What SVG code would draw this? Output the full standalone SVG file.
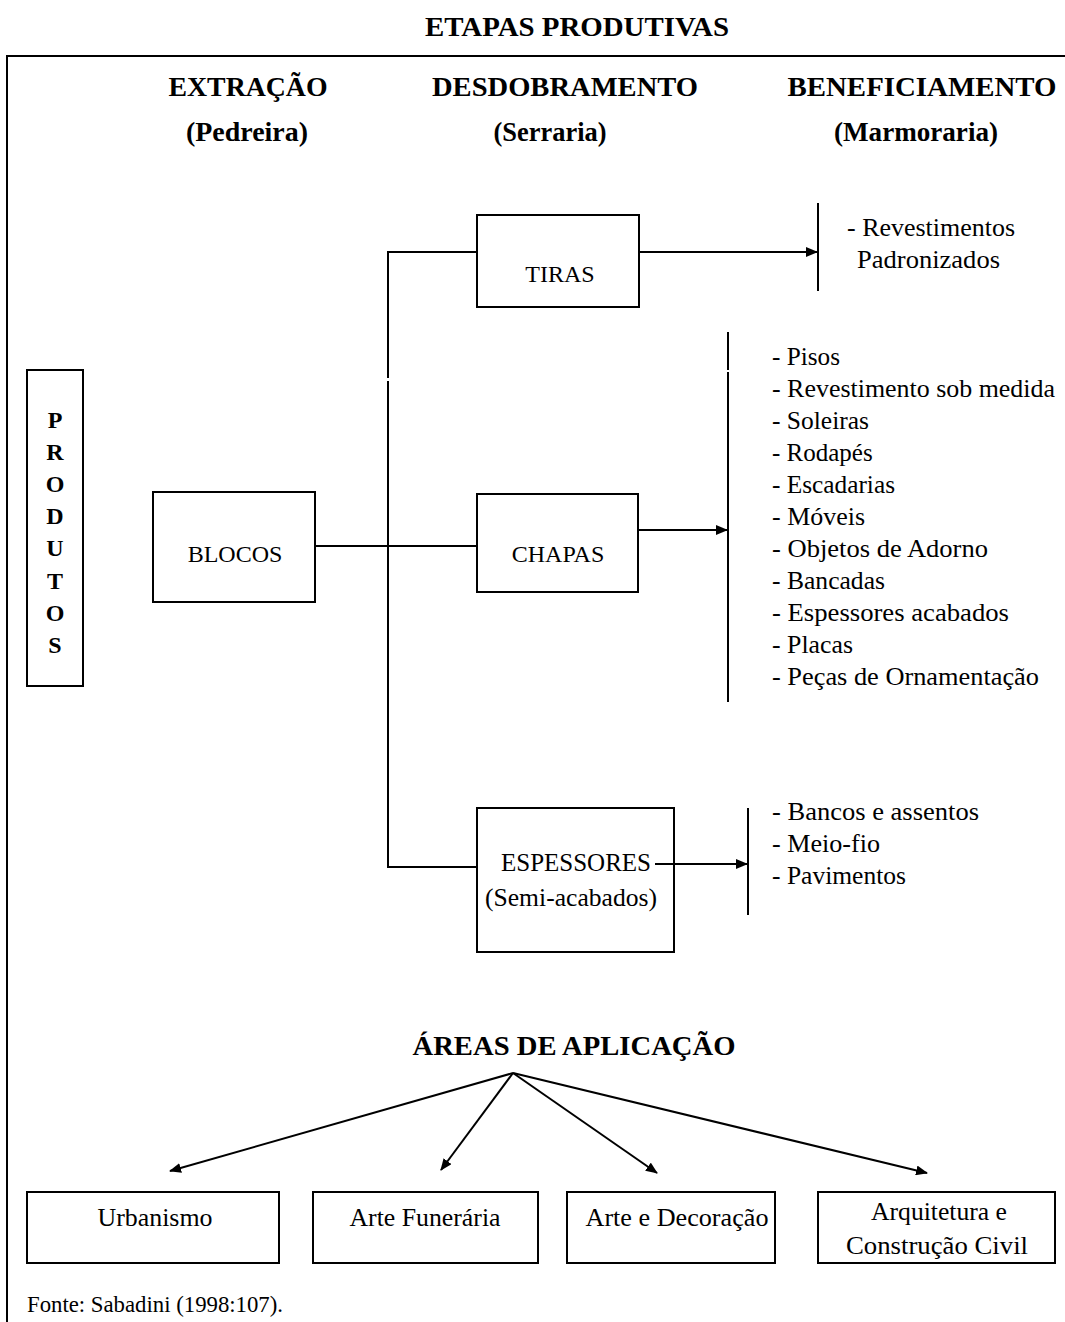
<svg xmlns="http://www.w3.org/2000/svg" width="1065" height="1322" viewBox="0 0 1065 1322">
<style>
text{font-family:"Liberation Serif","Times New Roman",serif;fill:#000}
.h{font-weight:bold;font-size:27px}
.t{font-size:24px}
.l{font-size:25px}
.box{fill:none;stroke:#000;stroke-width:2}
.ln{fill:none;stroke:#000;stroke-width:2}
.c{text-anchor:middle}
</style>
<defs>
<marker id="ah" markerWidth="12" markerHeight="10" refX="11" refY="5" orient="auto" markerUnits="userSpaceOnUse">
<path d="M0,0 L12,5 L0,10 Z" fill="#000"/>
</marker>
</defs>

<g id="frame">
<path class="ln" d="M7,1322 V56 H1065"/>
</g>

<g id="headers">
<text class="h c" x="577" y="36" textLength="304" lengthAdjust="spacingAndGlyphs">ETAPAS PRODUTIVAS</text>
<text class="h c" x="248" y="96" textLength="159" lengthAdjust="spacingAndGlyphs">EXTRAÇÃO</text>
<text class="h c" x="247" y="141" textLength="122" lengthAdjust="spacingAndGlyphs">(Pedreira)</text>
<text class="h c" x="565" y="96" textLength="266" lengthAdjust="spacingAndGlyphs">DESDOBRAMENTO</text>
<text class="h c" x="550" y="141" textLength="113" lengthAdjust="spacingAndGlyphs">(Serraria)</text>
<text class="h c" x="922" y="96" textLength="269" lengthAdjust="spacingAndGlyphs">BENEFICIAMENTO</text>
<text class="h c" x="916" y="141" textLength="164" lengthAdjust="spacingAndGlyphs">(Marmoraria)</text>
</g>

<g id="produtos">
<rect class="box" x="27" y="370" width="56" height="316"/>
<text class="c" style="font-weight:bold;font-size:24px" x="55">
<tspan x="55" y="428">P</tspan><tspan x="55" y="460">R</tspan><tspan x="55" y="492">O</tspan><tspan x="55" y="524">D</tspan><tspan x="55" y="556">U</tspan><tspan x="55" y="589">T</tspan><tspan x="55" y="621">O</tspan><tspan x="55" y="653">S</tspan>
</text>
</g>

<g id="blocos">
<rect class="box" x="153" y="492" width="162" height="110"/>
<text class="t c" x="235" y="562">BLOCOS</text>
</g>

<g id="tiras">
<rect class="box" x="477" y="215" width="162" height="92"/>
<text class="t c" x="560" y="282">TIRAS</text>
</g>

<g id="chapas">
<rect class="box" x="477" y="494" width="161" height="98"/>
<text class="t c" x="558" y="562">CHAPAS</text>
</g>

<g id="espessores">
<rect class="box" x="477" y="808" width="197" height="144"/>
<text class="l c" x="576" y="871" textLength="150" lengthAdjust="spacingAndGlyphs">ESPESSORES</text>
<text class="l c" x="571" y="906" textLength="172" lengthAdjust="spacingAndGlyphs">(Semi-acabados)</text>
</g>

<g id="list-tiras">
<line class="ln" x1="818" y1="203" x2="818" y2="291"/>
<text class="l" x="847" y="236" textLength="168" lengthAdjust="spacingAndGlyphs">- Revestimentos</text>
<text class="l" x="857" y="268" textLength="143" lengthAdjust="spacingAndGlyphs">Padronizados</text>
</g>

<g id="list-chapas">
<line class="ln" x1="728" y1="332" x2="728" y2="370"/>
<line class="ln" x1="728" y1="372" x2="728" y2="702"/>
<text class="l" x="772" y="365" textLength="68" lengthAdjust="spacingAndGlyphs">- Pisos</text>
<text class="l" x="772" y="397" textLength="283" lengthAdjust="spacingAndGlyphs">- Revestimento sob medida</text>
<text class="l" x="772" y="429" textLength="97" lengthAdjust="spacingAndGlyphs">- Soleiras</text>
<text class="l" x="772" y="461">- Rodapés</text>
<text class="l" x="772" y="493" textLength="123" lengthAdjust="spacingAndGlyphs">- Escadarias</text>
<text class="l" x="772" y="525" textLength="93" lengthAdjust="spacingAndGlyphs">- Móveis</text>
<text class="l" x="772" y="557" textLength="216" lengthAdjust="spacingAndGlyphs">- Objetos de Adorno</text>
<text class="l" x="772" y="589" textLength="113" lengthAdjust="spacingAndGlyphs">- Bancadas</text>
<text class="l" x="772" y="621" textLength="237" lengthAdjust="spacingAndGlyphs">- Espessores acabados</text>
<text class="l" x="772" y="653" textLength="81" lengthAdjust="spacingAndGlyphs">- Placas</text>
<text class="l" x="772" y="685" textLength="267" lengthAdjust="spacingAndGlyphs">- Peças de Ornamentação</text>
</g>

<g id="list-espessores">
<line class="ln" x1="748" y1="808" x2="748" y2="915"/>
<text class="l" x="772" y="820" textLength="207" lengthAdjust="spacingAndGlyphs">- Bancos e assentos</text>
<text class="l" x="772" y="852" textLength="108" lengthAdjust="spacingAndGlyphs">- Meio-fio</text>
<text class="l" x="772" y="884" textLength="134" lengthAdjust="spacingAndGlyphs">- Pavimentos</text>
</g>

<g id="areas-title">
<text class="h c" x="574" y="1055" textLength="323" lengthAdjust="spacingAndGlyphs">ÁREAS DE APLICAÇÃO</text>
</g>

<g id="urbanismo">
<rect class="box" x="27" y="1192" width="252" height="71"/>
<text class="l c" x="155" y="1226" textLength="115" lengthAdjust="spacingAndGlyphs">Urbanismo</text>
</g>
<g id="arte-funeraria">
<rect class="box" x="313" y="1192" width="225" height="71"/>
<text class="l c" x="425" y="1226" textLength="151" lengthAdjust="spacingAndGlyphs">Arte Funerária</text>
</g>
<g id="arte-decoracao">
<rect class="box" x="567" y="1192" width="208" height="71"/>
<text class="l c" x="677" y="1226" textLength="183" lengthAdjust="spacingAndGlyphs">Arte e Decoração</text>
</g>
<g id="arquitetura">
<rect class="box" x="818" y="1192" width="237" height="71"/>
<text class="l c" x="939" y="1220" textLength="136" lengthAdjust="spacingAndGlyphs">Arquitetura e</text>
<text class="l c" x="937" y="1254" textLength="182" lengthAdjust="spacingAndGlyphs">Construção Civil</text>
</g>

<g id="fonte">
<text class="t" x="27" y="1312" textLength="256" lengthAdjust="spacingAndGlyphs">Fonte: Sabadini (1998:107).</text>
</g>

<g id="connectors">
<path class="ln" d="M477,252 H388 V378"/>
<path class="ln" d="M388,381 V867 H477"/>
<line class="ln" x1="315" y1="546" x2="477" y2="546"/>
<line class="ln" x1="639" y1="252" x2="817" y2="252" marker-end="url(#ah)"/>
<line class="ln" x1="638" y1="530" x2="727" y2="530" marker-end="url(#ah)"/>
<line class="ln" x1="655" y1="864" x2="747" y2="864" marker-end="url(#ah)"/>
<line class="ln" x1="513" y1="1073" x2="170" y2="1171" marker-end="url(#ah)"/>
<line class="ln" x1="513" y1="1073" x2="441" y2="1170" marker-end="url(#ah)"/>
<line class="ln" x1="513" y1="1073" x2="657" y2="1173" marker-end="url(#ah)"/>
<line class="ln" x1="513" y1="1073" x2="927" y2="1173" marker-end="url(#ah)"/>
</g>
</svg>
